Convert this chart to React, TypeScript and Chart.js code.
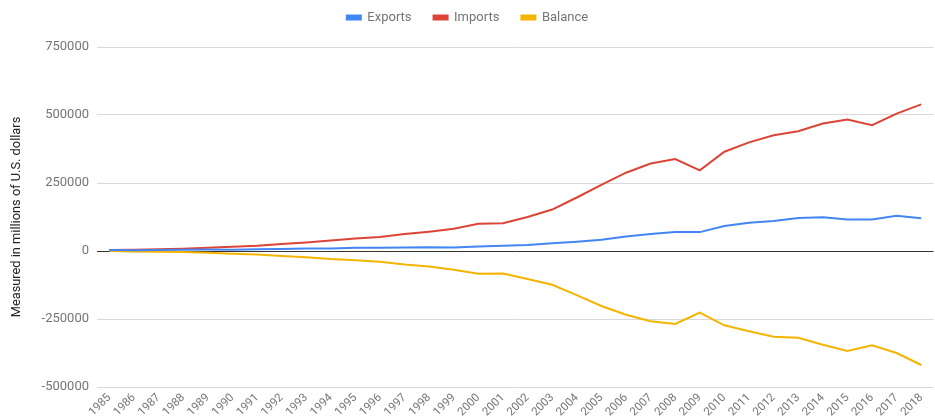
import React, { useEffect, useRef } from "react";
import { Chart, registerables } from "chart.js";

Chart.register(...registerables);

const years = [
  "1985", "1986", "1987", "1988", "1989", "1990", "1991", "1992", "1993", "1994",
  "1995", "1996", "1997", "1998", "1999", "2000", "2001", "2002", "2003", "2004",
  "2005", "2006", "2007", "2008", "2009", "2010", "2011", "2012", "2013", "2014",
  "2015", "2016", "2017", "2018",
];

const exportsData = [
  3856, 3106, 3497, 5022, 5755, 4806, 6278, 7419, 8763, 9282,
  11754, 11993, 12862, 14241, 13111, 16185, 19182, 22128, 28368, 34428,
  41192, 53673, 62937, 69733, 69497, 91911, 104122, 110517, 121746, 123657,
  115873, 115595, 129997, 120148,
];

const importsData = [
  3862, 4771, 6294, 8511, 11990, 15237, 18969, 25728, 31540, 38787,
  45543, 51513, 62558, 71169, 81788, 100018, 102278, 125193, 152436, 196682,
  243470, 287774, 321443, 337773, 296374, 364953, 399371, 425619, 440430, 468475,
  483202, 462420, 505165, 539243,
];

const balanceData = [
  -6, -1665, -2797, -3489, -6235, -10431, -12691, -18309, -22777, -29505,
  -33789, -39520, -49696, -56928, -68677, -83833, -83096, -103065, -124068, -162254,
  -202278, -234101, -258506, -268040, -226877, -273042, -295249, -315102, -318684, -344818,
  -367329, -346825, -375168, -419095,
];

const yTicks = [-500000, -250000, 0, 250000, 500000, 750000];

const FONT = "Roboto, 'Liberation Sans', Arial, sans-serif";

const legendShift = {
  id: "legendShift",
  afterLayout(chart: any) {
    const lg = chart.legend;
    if (lg) {
      lg.top -= 13;
      lg.bottom -= 13;
    }
  },
};

export default function App() {
  const ref = useRef<HTMLCanvasElement | null>(null);

  useEffect(() => {
    if (!ref.current) return;
    const chart = new Chart(ref.current, {
      type: "line",
      data: {
        labels: years,
        datasets: [
          {
            label: "Exports",
            data: exportsData,
            borderColor: "#4285F4",
            backgroundColor: "#4285F4",
            borderWidth: 2,
            pointRadius: 0,
            tension: 0,
          },
          {
            label: "Imports",
            data: importsData,
            borderColor: "#DB4437",
            backgroundColor: "#DB4437",
            borderWidth: 2,
            pointRadius: 0,
            tension: 0,
          },
          {
            label: "Balance",
            data: balanceData,
            borderColor: "#F4B400",
            backgroundColor: "#F4B400",
            borderWidth: 2,
            pointRadius: 0,
            tension: 0,
          },
        ],
      },
      options: {
        animation: false,
        responsive: true,
        maintainAspectRatio: false,
        layout: { padding: { left: 0, right: 0, top: 2, bottom: 0 } },
        plugins: {
          tooltip: { enabled: false },
          legend: {
            position: "top",
            align: "center",
            labels: {
              boxWidth: 14,
              boxHeight: 4,
              padding: 22,
              color: "#757575",
              font: { family: FONT, size: 13 },
            },
          },
        },
        scales: {
          x: {
            type: "category",
            offset: true,
            grid: { display: false, drawTicks: false },
            border: { display: false },
            ticks: {
              autoSkip: false,
              maxRotation: 45,
              minRotation: 45,
              color: "#757575",
              padding: 4,
              font: { family: FONT, size: 11.5 },
            },
            afterFit: (s: any) => {
              s.height = 32;
            },
          },
          y: {
            min: -500000,
            max: 750000,
            afterBuildTicks: (s: any) => {
              s.ticks = yTicks.map((v) => ({ value: v }));
            },
            grid: {
              color: (c: any) => (c.tick && c.tick.value === 0 ? "#333333" : "#d9d9d9"),
              lineWidth: 1,
              drawTicks: false,
            },
            border: { display: false },
            ticks: {
              color: "#757575",
              padding: 8,
              font: { family: FONT, size: 13 },
              callback: (v: any) => String(v),
            },
            title: {
              display: true,
              text: "Measured in millions of U.S. dollars",
              color: "#222222",
              font: { family: FONT, size: 12.8 },
              padding: { top: 9, bottom: 0 },
            },
            afterFit: (s: any) => {
              s.width = 97;
            },
          },
        },
      },
      plugins: [legendShift],
    });
    return () => chart.destroy();
  }, []);

  return (
    <div
      style={{
        position: "absolute",
        left: 0,
        top: 0,
        width: 935,
        height: 419,
        background: "#ffffff",
      }}
    >
      <canvas ref={ref} />
    </div>
  );
}
